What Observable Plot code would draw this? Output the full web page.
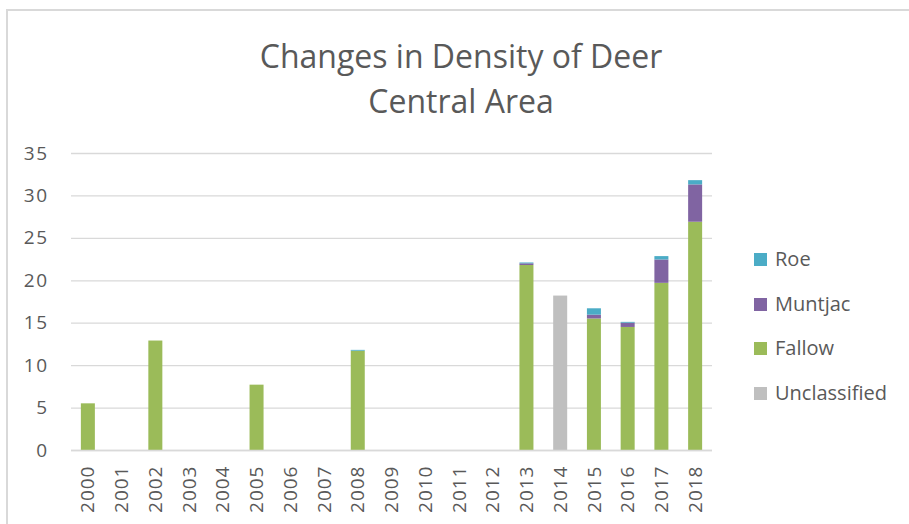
<!DOCTYPE html>
<html>
<head>
<meta charset="utf-8">
<script src="https://cdn.jsdelivr.net/npm/d3@7"></script>
<script src="https://cdn.jsdelivr.net/npm/@observablehq/plot@0.6"></script>
<style>
  html, body { margin: 0; padding: 0; background: #fff; }
  #wrap { position: relative; width: 909px; height: 524px; overflow: hidden; font-family: "Open Sans", sans-serif; }
  #frame { position: absolute; left: 6px; top: 9px; width: 1000px; height: 1000px; border-top: 2px solid #D9D9D9; border-left: 2px solid #D9D9D9; box-sizing: border-box; }
  #title { position: absolute; left: 0; width: 922px; top: 33px; text-align: center; font-size: 32px; line-height: 45px; color: #595959; }
  #chart { position: absolute; left: 0; top: 0; }
  #legend { position: absolute; left: 754px; top: 249px; color: #595959; font-size: 20px; }
  .item { height: 44.7px; display: flex; align-items: flex-start; }
  .sw { width: 13px; height: 13px; margin-top: 4px; margin-right: 8px; }
  .lab { line-height: 22px; margin-top: -1px; }
  [aria-label="y-axis tick label"] text { letter-spacing: 1.5px; }
  [aria-label="x-axis tick label"] text { letter-spacing: 1px; }
</style>
</head>
<body>
<div id="wrap">
  <div id="frame"></div>
  <div id="chart"></div>
  <div id="title">Changes in Density of Deer<br>Central Area</div>
  <div id="legend"></div>
</div>
<script>
const years = ["2000","2001","2002","2003","2004","2005","2006","2007","2008","2009","2010","2011","2012","2013","2014","2015","2016","2017","2018"];
const unclassified = [0,0,0,0,0,0,0,0,0,0,0,0,0,0,18.2,0,0,0,0];
const fallow       = [5.5,0,12.9,0,0,7.7,0,0,11.7,0,0,0,0,21.8,0,15.5,14.5,19.7,26.9];
const muntjac      = [0,0,0,0,0,0,0,0,0,0,0,0,0,0.2,0,0.45,0.5,2.75,4.4];
const roe          = [0,0,0,0,0,0,0,0,0.1,0,0,0,0,0.1,0,0.75,0.1,0.4,0.5];
const seriesNames = ["Unclassified","Fallow","Muntjac","Roe"];
const seriesColors = ["#BFBFBF","#9BBB59","#8064A2","#4BACC6"];
const yTicks = [0,5,10,15,20,25,30,35];

const seriesValues = [unclassified, fallow, muntjac, roe];
const rows = [];
years.forEach((y, i) => {
  seriesNames.forEach((s, j) => {
    rows.push({year: y, series: s, value: seriesValues[j][i]});
  });
});

const chart = Plot.plot({
  width: 909,
  height: 524,
  marginLeft: 71,
  marginRight: 197,
  marginTop: 153,
  marginBottom: 74,
  style: {fontFamily: "'Open Sans', sans-serif", color: "#595959", background: "transparent"},
  x: {domain: years, paddingInner: 0.585, paddingOuter: 0.2925, round: false, label: null},
  y: {domain: [0, 35], label: null},
  color: {domain: seriesNames, range: seriesColors},
  marks: [
    Plot.gridY(yTicks, {stroke: "#D9D9D9", strokeOpacity: 1, strokeWidth: 1.3}),
    Plot.barY(rows, Plot.stackY({order: seriesNames}, {x: "year", y: "value", fill: "series", z: "series"})),
    Plot.axisY(yTicks, {tickSize: 0, tickPadding: 23, fontSize: 19, label: null, fill: "#595959"}),
    Plot.axisX({tickRotate: -90, tickSize: 0, tickPadding: 15, fontSize: 19, label: null, fill: "#595959"}),
    Plot.ruleY([0], {stroke: "#D9D9D9", strokeWidth: 1.5})
  ]
});
document.getElementById("chart").appendChild(chart);

const legend = document.getElementById("legend");
["Roe","Muntjac","Fallow","Unclassified"].forEach(name => {
  const item = document.createElement("div");
  item.className = "item";
  const sw = document.createElement("div");
  sw.className = "sw";
  sw.style.background = seriesColors[seriesNames.indexOf(name)];
  const lab = document.createElement("div");
  lab.className = "lab";
  lab.textContent = name;
  item.appendChild(sw);
  item.appendChild(lab);
  legend.appendChild(item);
});
</script>
</body>
</html>
